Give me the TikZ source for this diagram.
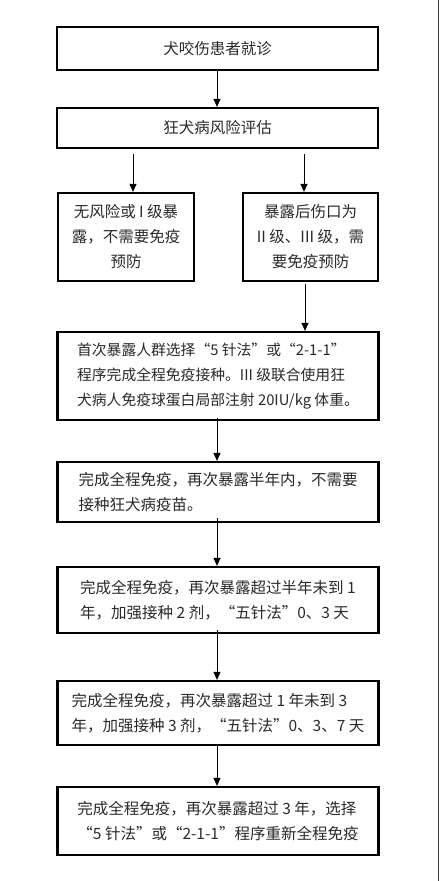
\documentclass[tikz,border=0pt]{standalone}
\usepackage{fontspec}
\setmainfont{Noto Sans CJK SC}
\usetikzlibrary{arrows.meta}
\definecolor{txt}{HTML}{2A2A2A}
\tikzset{
  box/.style={draw=black, line width=2.2pt, inner sep=0pt, align=left, text=txt,
    font=\fontsize{15.5}{25}\selectfont},
  cbox/.style={box, align=center},
  sbox/.style={box, font=\fontsize{14.8}{25}\selectfont},
  arr/.style={line width=1pt, -{Triangle[width=7pt,length=8pt]}},
  con/.style={line width=1pt}
}
\begin{document}
\begin{tikzpicture}[x=1pt,y=-1pt]
\useasboundingbox (0,0) rectangle (444,881);
\fill[white] (0,0) rectangle (444,881);
\draw[line width=1.5pt, black!75] (438.5,0) -- (438.5,881);

\node[cbox, minimum width=321pt, minimum height=43pt] (b1) at (217.5,48.5) {犬咬伤患者就诊};
\node[cbox, minimum width=321pt, minimum height=40pt] (b2) at (217.5,128) {狂犬病风险评估};
\node[cbox, minimum width=136pt, minimum height=88pt] (b3l) at (126,237) {无风险或 I 级暴\\露，不需要免疫\\预防};
\node[cbox, minimum width=135pt, minimum height=88pt] (b3r) at (310.5,237) {暴露后伤口为\\II 级、III 级，需\\要免疫预防};
\node[sbox, minimum width=321pt, minimum height=88pt] (b5) at (218,376) {首次暴露人群选择“5 针法”或“2-1-1”\\程序完成全程免疫接种。III 级联合使用狂\\犬病人免疫球蛋白局部注射 20IU/kg 体重。};
\node[box, minimum width=321pt, minimum height=60pt] (b6) at (218,492) {完成全程免疫，再次暴露半年内，不需要\\接种狂犬病疫苗。};
\node[box, minimum width=321pt, minimum height=66pt] (b7) at (218,600) {完成全程免疫，再次暴露超过半年未到 1\\年，加强接种 2 剂，“五针法”0、3 天};
\node[box, minimum width=321pt, minimum height=64pt] (b8) at (218,713) {完成全程免疫，再次暴露超过 1 年未到 3\\年，加强接种 3 剂，“五针法”0、3、7 天};
\node[box, minimum width=321pt, minimum height=68pt] (b9) at (218,821) {完成全程免疫，再次暴露超过 3 年，选择\\“5 针法”或“2-1-1”程序重新全程免疫};

\coordinate (sl) at (133,154);
\coordinate (sr) at (304,154);
\coordinate (sd) at (305,284);
\coordinate (m) at (217,0);

\draw[arr] (b1.south -| m) -- (b2.north -| m);
\draw[arr] (sl) -- (sl |- b3l.north);
\draw[arr] (sr) -- (sr |- b3r.north);
\draw[arr] (sd) -- (sd |- b5.north);
\draw[arr] ([yshift=3pt]b5.south -| m) -- (b6.north -| m);
\draw[arr] ([yshift=5pt]b6.south -| m) -- (b7.north -| m);
\draw[arr] ([yshift=4pt]b7.south -| m) -- (b8.north -| m);
\draw[arr] (b8.south -| m) -- (b9.north -| m);
\end{tikzpicture}
\end{document}
